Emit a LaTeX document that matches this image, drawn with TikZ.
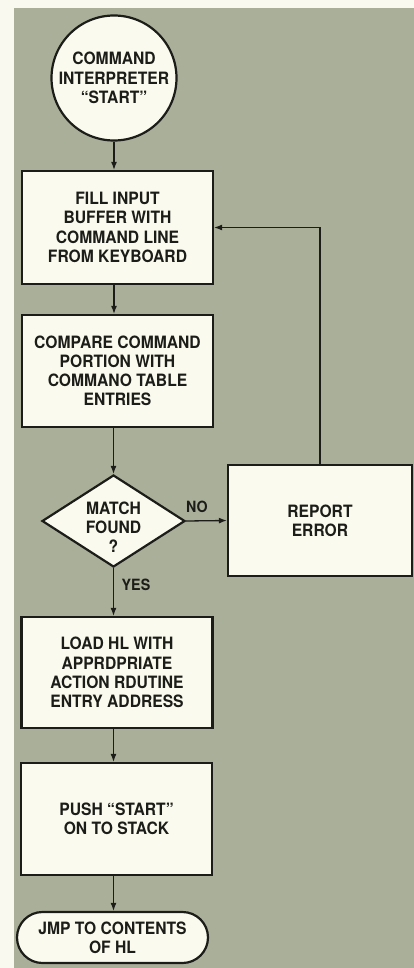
\documentclass[tikz,border=0pt]{standalone}
\usepackage{fontspec}
\setmainfont{TeX Gyre Heros}[FakeStretch=0.92]
\usetikzlibrary{shapes.geometric,shapes.misc,arrows.meta}
\definecolor{panel}{HTML}{AAAF9A}
\definecolor{paper}{HTML}{F9F9EF}
\definecolor{boxfill}{HTML}{FAFAEE}
\definecolor{ink}{HTML}{1C1C18}
\begin{document}
\begin{tikzpicture}[x=1pt,y=-1pt,
  every node/.style={font=\bfseries\fontsize{17}{19.2}\selectfont, text=ink, align=center, inner sep=0pt},
  procbox/.style={draw=ink, line width=2.2pt, fill=boxfill, rectangle, minimum width=#1},
  procbox/.default=191pt,
  decision/.style={draw=ink, line width=2.2pt, fill=boxfill, diamond, minimum width=143pt, minimum height=92pt},
  termbox/.style={draw=ink, line width=2.2pt, fill=boxfill, rounded rectangle, minimum width=191pt, minimum height=51pt},
  startcirc/.style={draw=ink, line width=2.2pt, fill=boxfill, circle, minimum size=125pt},
  conn/.style={draw=ink, line width=1.3pt, -{Latex[length=8pt,width=6pt]}},
  lbl/.style={font=\bfseries\fontsize{15.5}{16}\selectfont}
]
\useasboundingbox (0,0) rectangle (414,968);
\fill[paper] (0,0) rectangle (414,968);
\fill[panel] (14,8) rectangle (414,968);

\node[startcirc] (start) at (114,78) {COMMAND\\INTERPRETER\\``START''};
\node[procbox, minimum height=113pt] (fill) at (117.5,227.5) {FILL INPUT\\BUFFER WITH\\COMMAND LINE\\FROM KEYBOARD};
\node[procbox, minimum height=112pt] (cmp) at (117.5,371) {COMPARE COMMAND\\PORTION WITH\\COMMANO TABLE\\ENTRIES};
\node[decision] (dec) at (113.5,521) {};
\node (dect) at (113.5,527) {MATCH\\FOUND\\?};
\node[procbox=184pt, minimum height=111pt] (err) at (320,520.5) {REPORT\\ERROR};
\node[procbox, minimum height=111pt] (load) at (117,672.5) {LOAD HL WITH\\APPRDPRIATE\\ACTION RDUTINE\\ENTRY ADDRESS};
\node[procbox, minimum height=112pt] (push) at (116.5,819) {PUSH ``START''\\ON TO STACK};
\node[termbox] (jmp) at (112.5,937.5) {JMP TO CONTENTS\\OF HL};

\draw[conn] (start.south) -- (start.south |- fill.north);
\draw[conn] (fill.south -| start.south) -- (start.south |- cmp.north);
\draw[conn] (cmp.south -| dec.north) -- (dec.north);
\draw[conn] (dec.east) -- (err.west);
\draw[conn] (err.north) |- (fill.east);
\draw[conn] (dec.south) -- (dec.south |- load.north);
\draw[conn] (load.south -| dec.south) -- (dec.south |- push.north);
\draw[conn] (push.south -| dec.south) -- (dec.south |- jmp.north);

\node[lbl] (no) at (197,507) {NO};
\node[lbl] (yes) at (136,585) {YES};
\end{tikzpicture}
\end{document}
